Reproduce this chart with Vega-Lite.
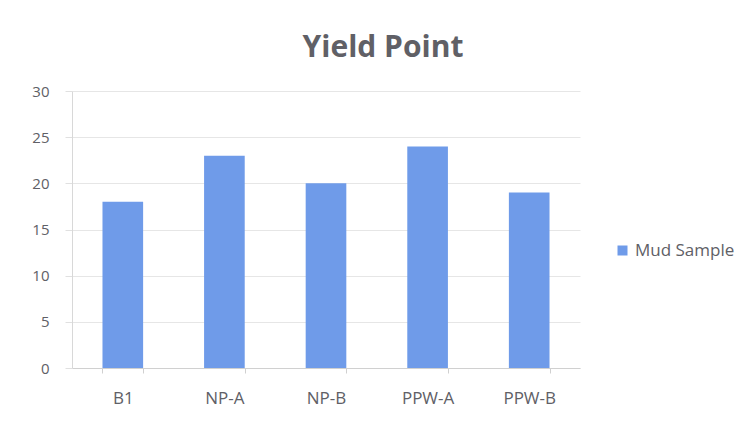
{
  "$schema": "https://vega.github.io/schema/vega-lite/v6.json",
  "autosize": {"type": "none"},
  "padding": {"left": 72, "top": 91, "right": 169, "bottom": 55},
  "width": 508,
  "height": 277,
  "background": "white",
  "title": {
    "text": "Yield Point",
    "fontSize": 30,
    "font": "Open Sans",
    "fontWeight": "bold",
    "color": "#606066",
    "anchor": "middle",
    "dx": 57,
    "offset": 21
  },
  "data": {
    "values": [
      {"sample": "B1", "value": 18, "series": "Mud Sample"},
      {"sample": "NP-A", "value": 23, "series": "Mud Sample"},
      {"sample": "NP-B", "value": 20, "series": "Mud Sample"},
      {"sample": "PPW-A", "value": 24, "series": "Mud Sample"},
      {"sample": "PPW-B", "value": 19, "series": "Mud Sample"}
    ]
  },
  "mark": {"type": "bar"},
  "encoding": {
    "x": {
      "field": "sample",
      "type": "nominal",
      "sort": null,
      "scale": {"paddingInner": 0.6, "paddingOuter": 0.3},
      "axis": {
        "title": null,
        "labelAngle": 0,
        "labelFont": "Open Sans",
        "labelFontSize": 17,
        "labelColor": "#606066",
        "labelPadding": 17,
        "tickBand": "extent",
        "tickColor": "#d0d0d0",
        "tickSize": 5,
        "domainColor": "#d0d0d0",
        "grid": false
      }
    },
    "y": {
      "field": "value",
      "type": "quantitative",
      "scale": {"domain": [0, 30], "nice": false},
      "axis": {
        "title": null,
        "values": [0, 5, 10, 15, 20, 25, 30],
        "labelFont": "Open Sans",
        "labelFontSize": 15,
        "labelColor": "#606066",
        "labelPadding": 16,
        "ticks": true,
        "tickSize": 7,
        "tickColor": "#e0e0e0",
        "domainColor": "#d8d8d8",
        "gridColor": "#e6e6e6"
      }
    },
    "color": {
      "field": "series",
      "type": "nominal",
      "scale": {"range": ["#6f9be9"]},
      "legend": {
        "title": null,
        "orient": "none",
        "legendX": 542,
        "legendY": 151,
        "symbolType": "square",
        "symbolSize": 100,
        "symbolStrokeWidth": 0,
        "labelFont": "Open Sans",
        "labelFontSize": 17,
        "labelColor": "#606066",
        "labelOffset": 4
      }
    }
  },
  "config": {"view": {"stroke": null}}
}
